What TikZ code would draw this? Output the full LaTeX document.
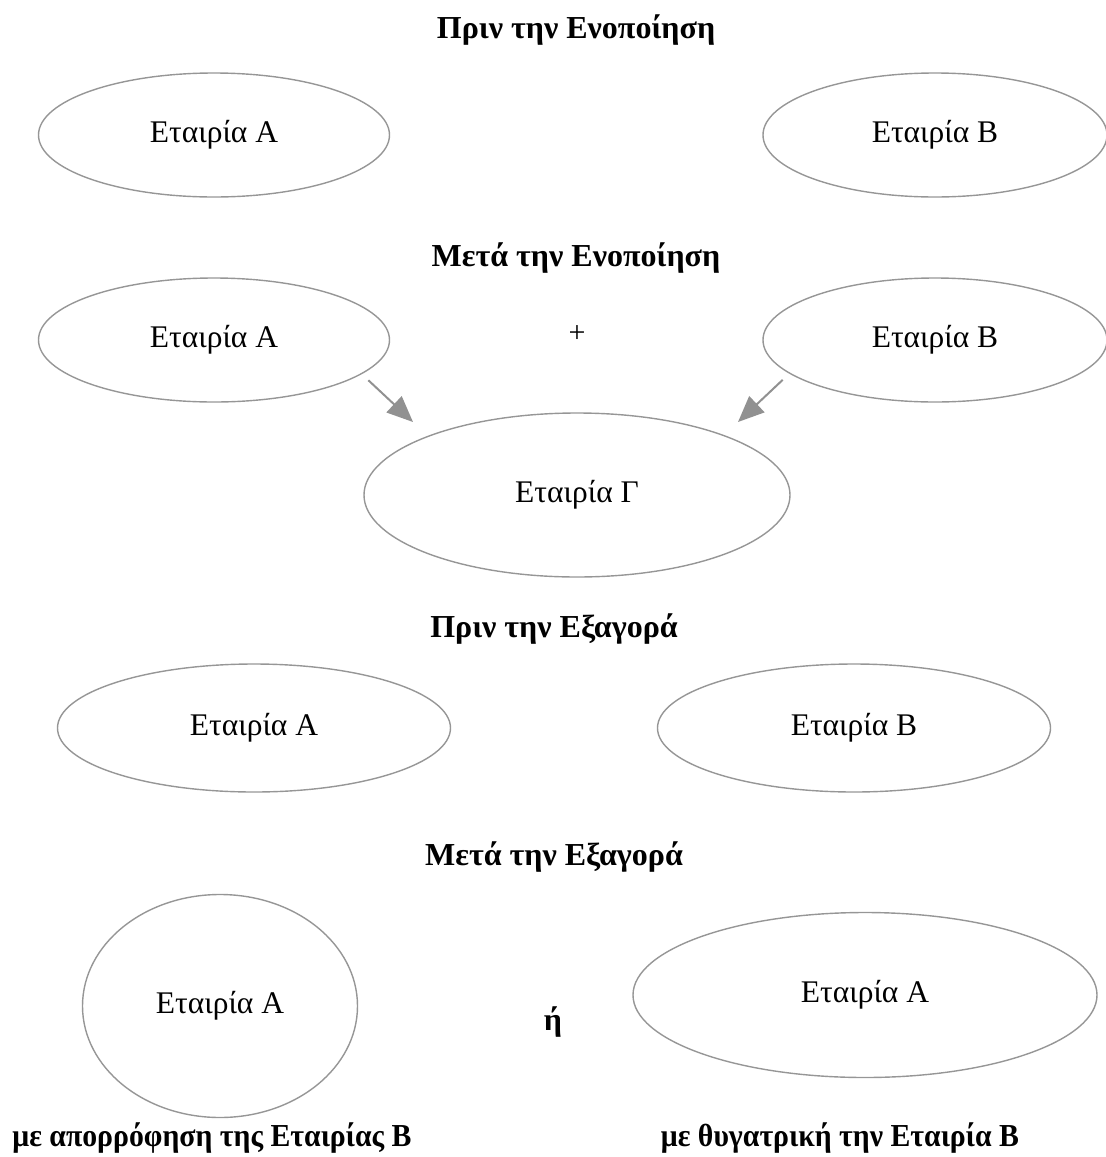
\documentclass[tikz,border=0pt]{standalone}
\usepackage{fontspec}
\setmainfont{Liberation Serif}
\newfontfamily\condensedbold{Liberation Serif Bold}[FakeStretch=0.93]
\usetikzlibrary{shapes.geometric,arrows.meta}

\definecolor{rimgray}{RGB}{150,150,150}
\definecolor{flowgray}{RGB}{145,145,145}

\begin{document}
\begin{tikzpicture}[x=1pt,y=1pt,yscale=-1,xscale=1,
  firm/.style={draw=rimgray,line width=1.4pt,ellipse,inner sep=0pt,font=\fontsize{31.5}{36}\selectfont},
  heading/.style={inner sep=0pt,font=\fontsize{32}{38}\selectfont\bfseries},
  caption/.style={inner sep=0pt,font=\fontsize{32}{38}\condensedbold},
  flow/.style={draw=flowgray,line width=2pt,-{Triangle[length=26pt,width=22pt]}}]
\useasboundingbox (0,0) rectangle (1106,1157);

% Text Node
\node [heading] (t1) at (576,30) {Πριν την Ενοποίηση};
%Shape: Ellipse
\node [firm,minimum width=351pt,minimum height=124pt] (ea1) at (214,135) {Εταιρία A};
%Shape: Ellipse
\node [firm,minimum width=344pt,minimum height=124pt] (eb1) at (935,135) {Εταιρία B};

% Text Node
\node [heading] (t2) at (576,258) {Μετά την Ενοποίηση};
%Shape: Ellipse
\node [firm,minimum width=351pt,minimum height=124pt] (ea2) at (214,340) {Εταιρία A};
%Shape: Ellipse
\node [firm,minimum width=344pt,minimum height=124pt] (eb2) at (935,340) {Εταιρία B};
% Text Node
\node [inner sep=0pt,font=\fontsize{30}{34}\selectfont] (plus) at (577,334) {+};
%Shape: Ellipse
\node [firm,minimum width=426pt,minimum height=164pt] (eg) at (577,495) {Εταιρία Γ};

%Straight Lines
\coordinate (tipA) at (413,422);
\coordinate (tipB) at (738,422);
\draw [flow,shorten <=9pt] (ea2.-13) -- (tipA);
\draw [flow,shorten <=9pt] (eb2.193) -- (tipB);

% Text Node
\node [heading] (t3) at (554,629) {Πριν την Εξαγορά};
%Shape: Ellipse
\node [firm,minimum width=393pt,minimum height=128pt] (ea3) at (254,728) {Εταιρία A};
%Shape: Ellipse
\node [firm,minimum width=393pt,minimum height=128pt] (eb3) at (854,728) {Εταιρία B};

% Text Node
\node [heading] (t4) at (554,857) {Μετά την Εξαγορά};
%Shape: Ellipse
\node [firm,minimum width=275pt,minimum height=223pt] (ea4) at (220,1006) {Εταιρία A};
% Text Node
\node [heading] (or) at (553,1022) {ή};
%Shape: Ellipse
\node [firm,minimum width=464pt,minimum height=165pt] (ea5) at (865,995) {Εταιρία A};

% Text Node
\node [caption] (l1) at (212,1138) {με απορρόφηση της Εταιρίας B};
% Text Node
\node [caption] (l2) at (840,1138) {με θυγατρική την Εταιρία B};

\end{tikzpicture}
\end{document}
